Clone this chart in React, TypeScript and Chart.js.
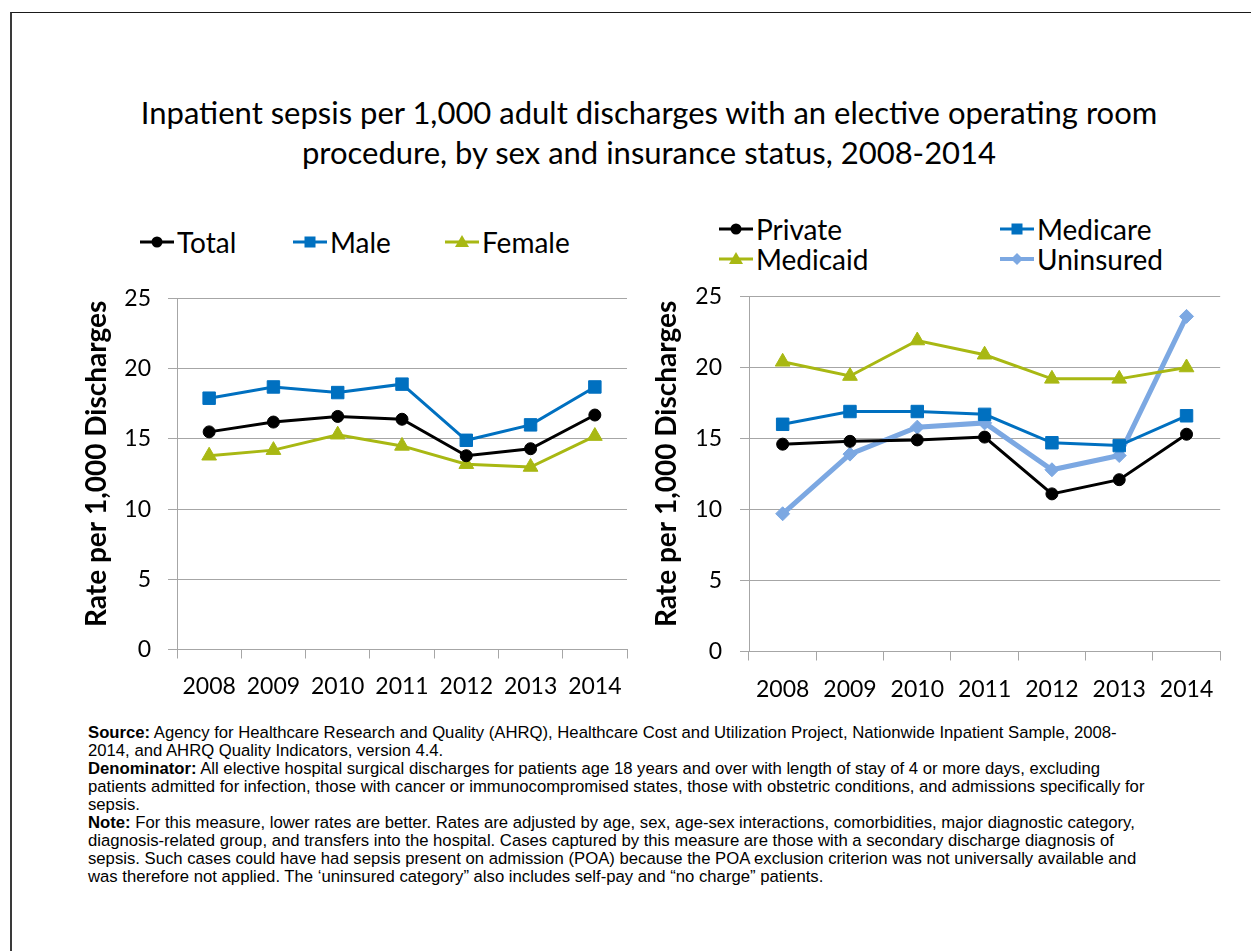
import React, { useEffect, useRef } from 'react';
import { Chart, registerables } from 'chart.js';

Chart.register(...registerables);

// ---------- data ----------
const years = ['2008', '2009', '2010', '2011', '2012', '2013', '2014'];
const yTicks = [0, 5, 10, 15, 20, 25];

const totalRates = [15.5, 16.2, 16.6, 16.4, 13.8, 14.3, 16.7];
const maleRates = [17.9, 18.7, 18.3, 18.9, 14.9, 16.0, 18.7];
const femaleRates = [13.8, 14.2, 15.3, 14.5, 13.2, 13.0, 15.2];

const privateRates = [14.6, 14.8, 14.9, 15.1, 11.1, 12.1, 15.3];
const medicareRates = [16.0, 16.9, 16.9, 16.7, 14.7, 14.5, 16.6];
const medicaidRates = [20.4, 19.4, 21.9, 20.9, 19.2, 19.2, 20.0];
const uninsuredRates = [9.7, 13.9, 15.8, 16.1, 12.8, 13.8, 23.6];

const titleLines = [
  'Inpatient sepsis per 1,000 adult discharges with an elective operating room',
  'procedure, by sex and insurance status, 2008-2014',
];
const yAxisTitle = 'Rate per 1,000 Discharges';

// ---------- styles ----------
const FONT = 'Lato, "Open Sans", sans-serif';
const BLACK = '#000000';
const BLUE = '#0070C0';
const OLIVE = '#A8B813';
const LIGHTBLUE = '#7CA8E2';
const GRID = '#A6A6A6';

type Series = {
  label: string;
  data: number[];
  color: string;
  point: 'circle' | 'rect' | 'triangle' | 'rectRot';
  radius: number;
  width: number;
};

const leftSeries: Series[] = [
  { label: 'Total', data: totalRates, color: BLACK, point: 'circle', radius: 6, width: 3 },
  { label: 'Male', data: maleRates, color: BLUE, point: 'rect', radius: 8.8, width: 3 },
  { label: 'Female', data: femaleRates, color: OLIVE, point: 'triangle', radius: 8.5, width: 3 },
];

const rightSeries: Series[] = [
  { label: 'Private', data: privateRates, color: BLACK, point: 'circle', radius: 6, width: 3 },
  { label: 'Medicare', data: medicareRates, color: BLUE, point: 'rect', radius: 8.8, width: 3 },
  { label: 'Medicaid', data: medicaidRates, color: OLIVE, point: 'triangle', radius: 8.5, width: 3 },
  { label: 'Uninsured', data: uninsuredRates, color: LIGHTBLUE, point: 'rectRot', radius: 7, width: 5 },
];

type Geo = {
  left: number;
  top: number;
  width: number;
  height: number;
  yAxisWidth: number;
  xAxisHeight: number;
  padTop: number;
  padRight: number;
  yTickPad: number;
  xTickPad: number;
};

function LineChart({ series, geo }: { series: Series[]; geo: Geo }) {
  const ref = useRef<HTMLCanvasElement | null>(null);
  useEffect(() => {
    if (!ref.current) return;
    const chart = new Chart(ref.current, {
      type: 'line',
      data: {
        labels: years,
        datasets: series.map((s) => ({
          label: s.label,
          data: s.data,
          borderColor: s.color,
          backgroundColor: s.color,
          pointBackgroundColor: s.color,
          pointBorderColor: s.color,
          pointBorderWidth: 1,
          pointStyle: s.point,
          pointRadius: s.radius,
          borderWidth: s.width,
          tension: 0,
          fill: false,
        })),
      },
      options: {
        animation: false,
        responsive: false,
        maintainAspectRatio: false,
        layout: { padding: { left: 0, right: geo.padRight, top: geo.padTop, bottom: 0 } },
        plugins: { legend: { display: false }, tooltip: { enabled: false } },
        scales: {
          x: {
            type: 'category',
            offset: true,
            grid: {
              offset: true,
              drawOnChartArea: false,
              drawTicks: true,
              tickLength: 9,
              color: GRID,
              lineWidth: 1,
            },
            border: { display: true, color: GRID, width: 1 },
            ticks: {
              color: BLACK,
              font: { family: FONT, size: 23 },
              padding: geo.xTickPad,
              maxRotation: 0,
              autoSkip: false,
            },
            afterFit: (s: any) => {
              s.height = geo.xAxisHeight;
            },
          },
          y: {
            min: 0,
            max: 25,
            afterBuildTicks: (s: any) => {
              s.ticks = yTicks.map((v) => ({ value: v }));
            },
            ticks: {
              color: BLACK,
              font: { family: FONT, size: 23 },
              padding: geo.yTickPad,
            },
            grid: { color: GRID, lineWidth: 1, drawTicks: true, tickLength: 9 },
            border: { display: true, color: GRID, width: 1 },
            title: {
              display: true,
              text: '   ' + yAxisTitle,
              color: BLACK,
              font: { family: FONT, size: 28, weight: 'bold' },
              padding: { top: 20.2, bottom: 0 },
            },
            afterFit: (s: any) => {
              s.width = geo.yAxisWidth;
              s.paddingTop = 0;
              s.paddingBottom = 0;
            },
          },
        },
      } as any,
    });
    return () => chart.destroy();
  }, []);
  return (
    <canvas
      ref={ref}
      width={geo.width}
      height={geo.height}
      style={{ position: 'absolute', left: geo.left, top: geo.top, width: geo.width, height: geo.height }}
    />
  );
}

function Marker({ s }: { s: Series }) {
  const c = s.color;
  let m: React.ReactNode = null;
  if (s.point === 'circle') m = <circle cx={17} cy={9} r={5.5} fill={c} />;
  if (s.point === 'rect') m = <rect x={11.5} y={3.5} width={11} height={11} fill={c} />;
  if (s.point === 'triangle') m = <polygon points="17,2 24,14 10,14" fill={c} />;
  if (s.point === 'rectRot') m = <polygon points="17,3 23,9 17,15 11,9" fill={c} />;
  return (
    <svg width={34} height={18} style={{ display: 'block' }}>
      <line x1={0} y1={9} x2={34} y2={9} stroke={c} strokeWidth={s.point === 'rectRot' ? 4 : 3} />
      {m}
    </svg>
  );
}

function LegendItem({ s, x, y }: { s: Series; x: number; y: number }) {
  return (
    <div
      style={{
        position: 'absolute',
        left: x,
        top: y - 16,
        height: 32,
        display: 'flex',
        alignItems: 'center',
        fontFamily: FONT,
        fontSize: 28,
        color: BLACK,
        whiteSpace: 'nowrap',
        lineHeight: '32px',
      }}
    >
      <Marker s={s} />
      <span style={{ marginLeft: 3 }}>{s.label}</span>
    </div>
  );
}

const footLines: { bold?: string; text: string }[] = [
  { bold: 'Source:', text: ' Agency for Healthcare Research and Quality (AHRQ), Healthcare Cost and Utilization Project, Nationwide Inpatient Sample, 2008-' },
  { text: '2014, and AHRQ Quality Indicators, version 4.4.' },
  { bold: 'Denominator:', text: ' All elective hospital surgical discharges for patients age 18 years and over with length of stay of 4 or more days, excluding' },
  { text: 'patients admitted for infection, those with cancer or immunocompromised states, those with obstetric conditions, and admissions specifically for' },
  { text: 'sepsis.' },
  { bold: 'Note:', text: ' For this measure, lower rates are better. Rates are adjusted by age, sex, age-sex interactions, comorbidities, major diagnostic category,' },
  { text: 'diagnosis-related group, and transfers into the hospital. Cases captured by this measure are those with a secondary discharge diagnosis of' },
  { text: 'sepsis. Such cases could have had sepsis present on admission (POA) because the POA exclusion criterion was not universally available and' },
  { text: 'was therefore not applied. The \u2018uninsured category\u201d also includes self-pay and \u201cno charge\u201d patients.' },
];

export default function App() {
  return (
    <div
      style={{
        position: 'absolute',
        left: 0,
        top: 0,
        width: 1251,
        height: 951,
        overflow: 'hidden',
        background: '#fff',
      }}
    >
      <div
        style={{
          position: 'absolute',
          left: 10,
          top: 12,
          width: 1400,
          height: 1200,
          borderLeft: '2px solid #3a3a3a',
          borderTop: '1.5px solid #1a1a1a',
        }}
      />
      <div
        style={{
          position: 'absolute',
          left: 14,
          top: 92,
          width: 1270,
          textAlign: 'center',
          fontFamily: FONT,
          fontSize: 31,
          lineHeight: '40px',
          color: BLACK,
        }}
      >
        {titleLines.map((l, i) => (
          <div key={i} style={{ whiteSpace: 'nowrap' }}>{l}</div>
        ))}
      </div>

      <LegendItem s={leftSeries[0]} x={140} y={242} />
      <LegendItem s={leftSeries[1]} x={293} y={242} />
      <LegendItem s={leftSeries[2]} x={445} y={242} />

      <LegendItem s={rightSeries[0]} x={719} y={229} />
      <LegendItem s={rightSeries[1]} x={1000} y={229} />
      <LegendItem s={rightSeries[2]} x={719} y={259} />
      <LegendItem s={rightSeries[3]} x={1000} y={259} />

      <LineChart
        series={leftSeries}
        geo={{
          left: 60,
          top: 280,
          width: 580,
          height: 420,
          yAxisWidth: 117,
          xAxisHeight: 50.5,
          padTop: 18.5,
          padRight: 13,
          yTickPad: 17,
          xTickPad: 14,
        }}
      />
      <LineChart
        series={rightSeries}
        geo={{
          left: 630,
          top: 280,
          width: 600,
          height: 420,
          yAxisWidth: 119,
          xAxisHeight: 48.5,
          padTop: 16.5,
          padRight: 9,
          yTickPad: 18,
          xTickPad: 15,
        }}
      />

      <div
        style={{
          position: 'absolute',
          left: 88,
          top: 724,
          fontFamily: '"Liberation Sans", Arial, sans-serif',
          fontSize: 16.7,
          lineHeight: '18px',
          color: BLACK,
        }}
      >
        {footLines.map((l, i) => (
          <div key={i} style={{ whiteSpace: 'nowrap' }}>
            {l.bold ? <b>{l.bold}</b> : null}
            {l.text}
          </div>
        ))}
      </div>
    </div>
  );
}
